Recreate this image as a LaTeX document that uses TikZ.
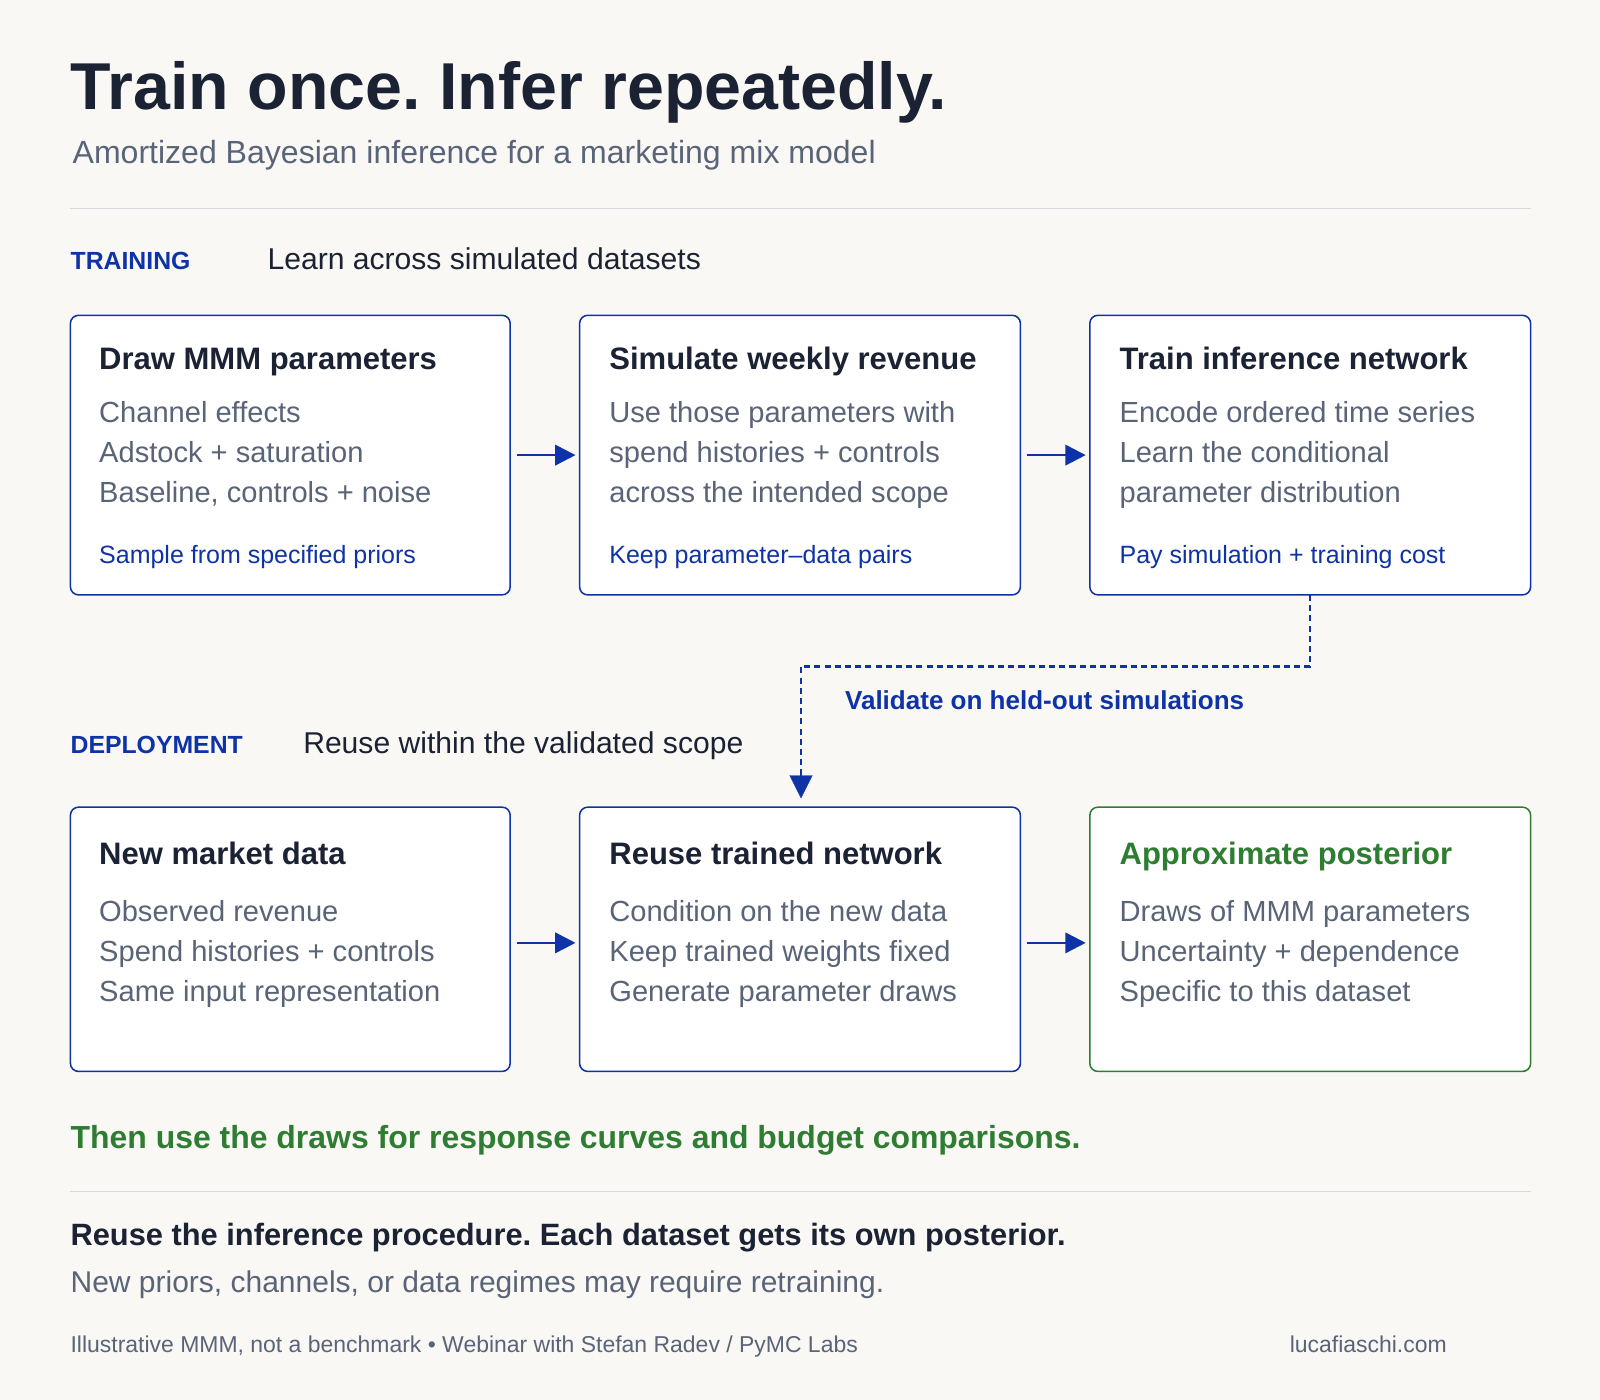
\documentclass[tikz,border=0pt]{standalone}
\usepackage{fontspec}
\setmainfont{Liberation Sans}
\usetikzlibrary{arrows.meta}
\definecolor{bg}{HTML}{F9F8F5}
\definecolor{ink}{HTML}{1A2233}
\definecolor{muted}{HTML}{5A6478}
\definecolor{blu}{HTML}{0E33A6}
\definecolor{grn}{HTML}{2E7D32}
\definecolor{rule}{HTML}{D6D9E0}
\frenchspacing
\begin{document}
\begin{tikzpicture}[x=1pt,y=-1pt,
 t/.style={anchor=base west,inner sep=0pt},
 box/.style={draw=blu,line width=1.5pt,rounded corners=8pt,fill=white},
 gbox/.style={draw=grn,line width=1.5pt,rounded corners=8pt,fill=white},
 hd/.style={t,font=\fontsize{30.4}{32}\selectfont\bfseries,text=ink},
 bd/.style={t,font=\fontsize{28.5}{30}\selectfont,text=muted},
 sm/.style={t,font=\fontsize{24.5}{26}\selectfont,text=blu},
 arr/.style={draw=blu,line width=2.5pt,-{Triangle[length=20pt,width=20pt]}}]
\useasboundingbox[fill=bg] (0,0) rectangle (1568,1372);
\node[t,font=\fontsize{65}{68}\selectfont\bfseries,text=ink] (title) at (69,107) {Train once. Infer repeatedly.};
\node[t,font=\fontsize{31.4}{33}\selectfont,text=muted] (sub) at (71,160) {Amortized Bayesian inference for a marketing mix model};
\draw[rule,line width=1.2pt] (69,204) -- (1500,204);
\node[t,font=\fontsize{24.3}{26}\selectfont\bfseries,text=blu] (trl) at (69,264) {TRAINING};
\node[t,font=\fontsize{29.5}{31}\selectfont,text=ink] (trt) at (262,264) {Learn across simulated datasets};
% row 1
\draw[box] (69,309) rectangle (500,583);
\draw[box] (568,309) rectangle (1000,583);
\draw[box] (1068,309) rectangle (1500,583);
\node[hd] (a1) at (97,362) {Draw MMM parameters};
\node[bd] (a2) at (97,414) {Channel effects};
\node[bd] (a3) at (97,453) {Adstock + saturation};
\node[bd] (a4) at (97,492) {Baseline, controls + noise};
\node[sm] (a5) at (97,552) {Sample from specified priors};
\node[hd] (b1) at (597,362) {Simulate weekly revenue};
\node[bd] (b2) at (597,414) {Use those parameters with};
\node[bd] (b3) at (597,453) {spend histories + controls};
\node[bd] (b4) at (597,492) {across the intended scope};
\node[sm] (b5) at (597,552) {Keep parameter–data pairs};
\node[hd] (c1) at (1097,362) {Train inference network};
\node[bd] (c2) at (1097,414) {Encode ordered time series};
\node[bd] (c3) at (1097,453) {Learn the conditional};
\node[bd] (c4) at (1097,492) {parameter distribution};
\node[sm] (c5) at (1097,552) {Pay simulation + training cost};
\coordinate (r1a) at (507,446); \coordinate (r1b) at (564,446);
\coordinate (r1c) at (1006,446); \coordinate (r1d) at (1064,446);
\draw[arr] (r1a) -- (r1b);
\draw[arr] (r1c) -- (r1d);
% dashed
\coordinate (ds) at (1284,583); \coordinate (de) at (785,782);
\draw[draw=blu,line width=2.5pt,dash pattern=on 6pt off 4pt] (ds) -- (1284,653) -- (785,653) -- (785,760);
\draw[blu,fill=blu] (774,760) -- (796,760) -- (de) -- cycle;
\node[t,font=\fontsize{25.5}{27}\selectfont\bfseries,text=blu] (val) at (828,695) {Validate on held-out simulations};
\node[t,font=\fontsize{24.3}{26}\selectfont\bfseries,text=blu] (dpl) at (69,738) {DEPLOYMENT};
\node[t,font=\fontsize{29.5}{31}\selectfont,text=ink] (dpt) at (297,738) {Reuse within the validated scope};
% row 2
\draw[box] (69,791) rectangle (500,1050);
\draw[box] (568,791) rectangle (1000,1050);
\draw[gbox] (1068,791) rectangle (1500,1050);
\node[hd] (d1) at (97,847) {New market data};
\node[bd] (d2) at (97,903) {Observed revenue};
\node[bd] (d3) at (97,942) {Spend histories + controls};
\node[bd] (d4) at (97,981) {Same input representation};
\node[hd] (e1) at (597,847) {Reuse trained network};
\node[bd] (e2) at (597,903) {Condition on the new data};
\node[bd] (e3) at (597,942) {Keep trained weights fixed};
\node[bd] (e4) at (597,981) {Generate parameter draws};
\node[hd,text=grn] (f1) at (1097,847) {Approximate posterior};
\node[bd] (f2) at (1097,903) {Draws of MMM parameters};
\node[bd] (f3) at (1097,942) {Uncertainty + dependence};
\node[bd] (f4) at (1097,981) {Specific to this dataset};
\coordinate (r2a) at (507,924); \coordinate (r2b) at (564,924);
\coordinate (r2c) at (1006,924); \coordinate (r2d) at (1064,924);
\draw[arr] (r2a) -- (r2b);
\draw[arr] (r2c) -- (r2d);
\node[t,font=\fontsize{31.3}{33}\selectfont\bfseries,text=grn] (then) at (69,1126) {Then use the draws for response curves and budget comparisons.};
\draw[rule,line width=1.2pt] (69,1168) -- (1500,1168);
\node[t,font=\fontsize{30.2}{32}\selectfont\bfseries,text=ink] (re) at (69,1221) {Reuse the inference procedure. Each dataset gets its own posterior.};
\node[t,font=\fontsize{29.4}{31}\selectfont,text=muted] (np) at (69,1267) {New priors, channels, or data regimes may require retraining.};
\node[t,font=\fontsize{22.5}{24}\selectfont,text=muted] (ft) at (69,1325) {Illustrative MMM, not a benchmark • Webinar with Stefan Radev / PyMC Labs};
\node[anchor=base east,inner sep=0pt,font=\fontsize{22.5}{24}\selectfont,text=muted] (url) at (1418,1325) {lucafiaschi.com};
\end{tikzpicture}
\end{document}
